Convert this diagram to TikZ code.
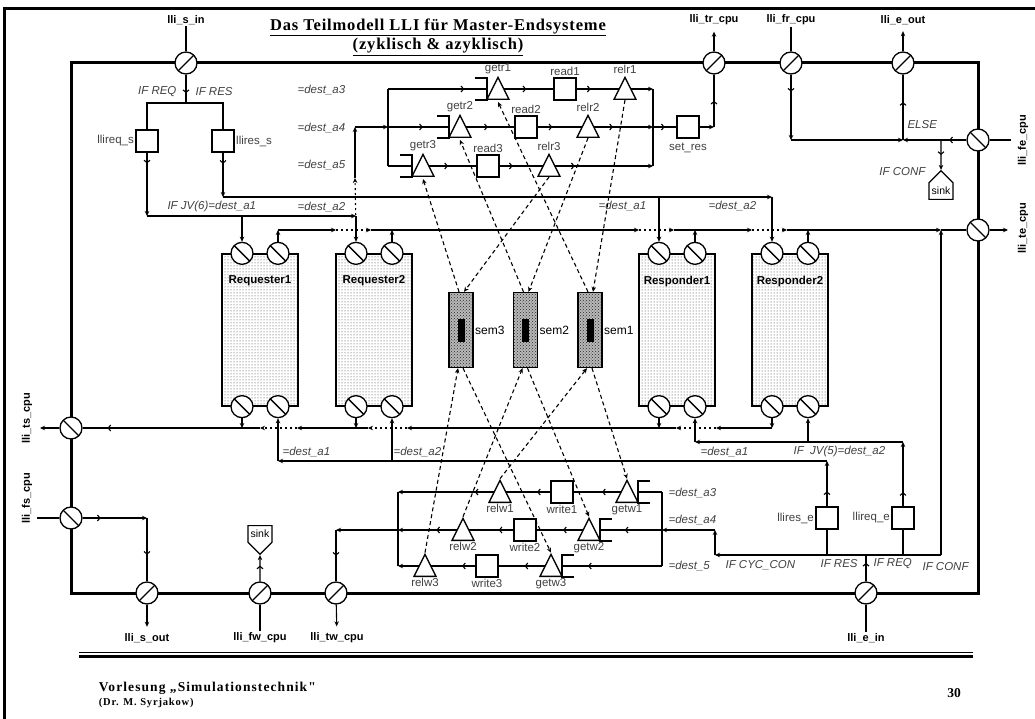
\documentclass[tikz,border=0pt]{standalone}
\usepackage{fontspec}
\setmainfont{Liberation Serif}
\setsansfont{Liberation Sans}
\newfontfamily\titlefont[LetterSpace=5]{Liberation Serif}
\newfontfamily\footfont[LetterSpace=8]{Liberation Serif}
\usetikzlibrary{positioning,arrows.meta,shapes,calc,patterns,decorations.markings}

\begin{document}
\begin{tikzpicture}[
    x=1pt, y=-1pt, line width=1.1pt,
    >={Stealth[length=5pt,width=4.5pt]},
    port/.style={circle, draw, line width=1.3pt, fill=white, minimum size=22pt, inner sep=0pt,
        path picture={\draw[line width=1.3pt] (path picture bounding box.south west) -- (path picture bounding box.north east);}},
    bport/.style={circle, draw, line width=1.3pt, fill=white, minimum size=22pt, inner sep=0pt,
        path picture={\draw[line width=1.3pt] (path picture bounding box.north west) -- (path picture bounding box.south east);}},
    queue/.style={rectangle, draw, line width=1.3pt, fill=white, minimum size=22pt, inner sep=0pt},
    tri/.style={isosceles triangle, isosceles triangle stretches, shape border rotate=90, draw, line width=1.3pt,
        fill=white, minimum width=22pt, minimum height=22pt, inner sep=0pt, anchor=lower side},
    proc/.style={rectangle, draw, line width=1.3pt, minimum width=76pt, minimum height=152pt,
        pattern=dots, pattern color=black!80},
    sem/.style={rectangle, draw, line width=1.3pt, minimum width=24pt, minimum height=75pt,
        preaction={fill=gray!55}, pattern=crosshatch dots, pattern color=black!85},
    sink/.style={signal, draw, line width=1.2pt, fill=white, inner sep=1pt, minimum width=24pt,
        minimum height=27pt, font=\sffamily\fontsize{10.5}{11}\selectfont},
    lbl/.style={font=\sffamily\fontsize{11.5}{13}\selectfont, text=black!75, inner sep=1pt},
    semlbl/.style={font=\sffamily\fontsize{12}{13}\selectfont, inner sep=1pt},
    cond/.style={font=\sffamily\itshape\fontsize{11.5}{13}\selectfont, text=black!75, inner sep=1pt},
    io/.style={font=\sffamily\bfseries\fontsize{11}{12}\selectfont, inner sep=1pt},
    ma/.style={postaction={decorate}, decoration={markings,
        mark=at position #1 with {\arrow{Straight Barb[length=2.5pt,width=6pt]}}}},
    ma/.default=0.5,
    semline/.style={dash pattern=on 4pt off 3pt, ->},
    gap/.style={dash pattern=on 2pt off 3pt, ->}
]
    \useasboundingbox (0,0) rectangle (1035,719);

    % slide frame and model frame
    \draw[line width=3pt] (4,719) -- (4,9) -- (1035,9);
    \draw[line width=3pt] (71,63) rectangle (978,593);
    \draw[line width=0.8pt] (79,652) -- (973,652);
    \draw[line width=3pt] (79,656.5) -- (973,656.5);

    % title and footer
    \node[font=\titlefont\bfseries\fontsize{16.5}{19}\selectfont] (title) at (438,27)
        {\underline{Das Teilmodell LLI für Master-Endsysteme}};
    \node[font=\titlefont\bfseries\fontsize{16.5}{19}\selectfont] (subtitle) at (438,47)
        {\underline{(zyklisch \& azyklisch)}};
    \node[anchor=west, font=\footfont\bfseries\fontsize{13.5}{15}\selectfont] (lecture) at (95,688)
        {Vorlesung „Simulationstechnik"};
    \node[anchor=west, font=\footfont\bfseries\fontsize{10.5}{12}\selectfont] (lecturer) at (95,703)
        {(Dr. M. Syrjakow)};
    \node[font=\bfseries\fontsize{13.5}{15}\selectfont] (page) at (954,693) {30};

    % ports on the border
    \node[port] (sin) at (186,63) {};
    \node[port] (trcpu) at (714,63) {};
    \node[port] (frcpu) at (791,63) {};
    \node[port] (eout) at (903,63) {};
    \node[bport] (fecpu) at (978,140) {};
    \node[bport] (tecpu) at (978,230) {};
    \node[bport] (tscpu) at (71,428) {};
    \node[bport] (fscpu) at (71,518) {};
    \node[port] (sout) at (147,593) {};
    \node[port] (fwcpu) at (260,593) {};
    \node[port] (twcpu) at (336,593) {};
    \node[port] (ein) at (866,593) {};

    \node[io] (sinlbl) at (186,20) {lli\_s\_in};
    \node[io] (trcpulbl) at (714,20) {lli\_tr\_cpu};
    \node[io] (frcpulbl) at (791,20) {lli\_fr\_cpu};
    \node[io] (eoutlbl) at (903,20) {lli\_e\_out};
    \node[io, rotate=90] (fecpulbl) at (1023,140) {lli\_fe\_cpu};
    \node[io, rotate=90] (tecpulbl) at (1023,228) {lli\_te\_cpu};
    \node[io, rotate=90] (tscpulbl) at (27,418) {lli\_ts\_cpu};
    \node[io, rotate=90] (fscpulbl) at (27,498) {lli\_fs\_cpu};
    \node[io] (soutlbl) at (147,638) {lli\_s\_out};
    \node[io] (fwcpulbl) at (260,638) {lli\_fw\_cpu};
    \node[io] (twcpulbl) at (337,638) {lli\_tw\_cpu};
    \node[io] (einlbl) at (866,638) {lli\_e\_in};

    \coordinate (fein) at (1011,140);
    \coordinate (teout) at (1008,230);
    \coordinate (tsout) at (40,428);
    \coordinate (fsin) at (37,518);

    \draw (sinlbl) -- (sin);
    \draw[->, shorten >=5pt] (trcpu) -- (trcpulbl);
    \draw (frcpulbl) -- (frcpu);
    \draw[->, shorten >=5pt] (eout) -- (eoutlbl);
    \draw (fein) -- (fecpu);
    \draw[->] (tecpu) -- (teout);
    \draw[->] (tscpu) -- (tsout);
    \draw (fsin) -- (fscpu);
    \draw[->, shorten >=5pt] (sout) -- (soutlbl);
    \draw (fwcpulbl) -- (fwcpu);
    \draw[->, shorten >=5pt] (twcpu) -- (twcpulbl);
    \draw (einlbl) -- (ein);

    % send queues
    \node[queue, label={[lbl]left:llireq\_s}] (reqs) at (147,141) {};
    \node[queue, label={[lbl]right:llires\_s}] (ress) at (223,141) {};
    \coordinate (sjoin) at (186,103);
    \coordinate (jv6) at (147,216);
    \coordinate (jres) at (223,197);
    \draw[ma=0.65] (sin) -- (sjoin);
    \draw (reqs) |- (sjoin) -| (ress);
    \draw[ma=0.17, ->] (reqs) -- (jv6);
    \draw[ma=0.25, ->] (ress) -- (jres);
    \node[cond, anchor=east] (ifreqs) at (178,92) {IF REQ};
    \node[cond, anchor=west] (ifress) at (194,92) {IF RES};

    % requesters and responders
    \node[proc, label={[io, font=\sffamily\bfseries\fontsize{11.5}{13}\selectfont, anchor=north, yshift=-21pt]north:Requester1}] (req1) at (260,330) {};
    \node[proc, label={[io, font=\sffamily\bfseries\fontsize{11.5}{13}\selectfont, anchor=north, yshift=-21pt]north:Requester2}] (req2) at (374,330) {};
    \node[proc, label={[io, font=\sffamily\bfseries\fontsize{11.5}{13}\selectfont, anchor=north, yshift=-21pt]north:Responder1}] (resp1) at (677,330) {};
    \node[proc, label={[io, font=\sffamily\bfseries\fontsize{11.5}{13}\selectfont, anchor=north, yshift=-21pt]north:Responder2}] (resp2) at (790,330) {};
    \foreach \p in {req1,req2,resp1,resp2} {
        \node[bport] (\p tl) at ([xshift=-18pt]\p.north) {};
        \node[bport] (\p tr) at ([xshift=18pt]\p.north) {};
        \node[bport] (\p bl) at ([xshift=-18pt]\p.south) {};
        \node[bport] (\p br) at ([xshift=18pt]\p.south) {};
    }

    % incoming requests and responses
    \draw[->] (jv6) -- (req2tl |- jv6);
    \draw[->] (req1tl |- jv6) -- (req1tl);
    \draw[->] (req2tl |- jv6) -- (req2tl);
    \draw[->] (jres) -- (resp2tl |- jres);
    \draw[->] (resp1tl |- jres) -- (resp1tl);
    \draw[->] (resp2tl |- jres) -- (resp2tl);
    \node[cond, anchor=west] (jv6lbl) at (166,207) {IF JV(6)=dest\_a1};
    \node[cond, anchor=west] (a2top) at (296,207) {=dest\_a2};
    \node[cond, anchor=west] (a1top) at (597,206) {=dest\_a1};
    \node[cond, anchor=west] (a2topr) at (707,206) {=dest\_a2};

    % outgoing bus
    \coordinate (jout) at (941,230);
    \foreach \p in {req1,req2,resp1,resp2}
        \draw[->] (\p tr) -- (\p tr |- jout);
    \draw[->] (req1tr |- jout) -- ($(req2tl |- jout)+(-20,0)$);
    \draw[gap] ($(req2tl |- jout)+(-20,0)$) -- ($(req2tl |- jout)+(15,0)$);
    \draw[->] ($(req2tl |- jout)+(15,0)$) -- ($(resp1tl |- jout)+(-20,0)$);
    \draw[gap] ($(resp1tl |- jout)+(-20,0)$) -- ($(resp1tl |- jout)+(15,0)$);
    \draw[->] ($(resp1tl |- jout)+(15,0)$) -- ($(resp2tl |- jout)+(-20,0)$);
    \draw[gap] ($(resp2tl |- jout)+(-20,0)$) -- ($(resp2tl |- jout)+(15,0)$);
    \draw[->] ($(resp2tl |- jout)+(15,0)$) -- (jout);
    \draw (jout) -- (tecpu);

    % read part
    \node[cond, anchor=west] (a3) at (296,90) {=dest\_a3};
    \node[cond, anchor=west] (a4) at (296,128) {=dest\_a4};
    \node[cond, anchor=west] (a5) at (296,165) {=dest\_a5};
    \node[tri, label={[lbl]above:getr1}] (getr1) at (498,100) {};
    \node[queue, label={[lbl]above:read1}] (read1) at (565,89) {};
    \node[tri, label={[lbl]above:relr1}] (relr1) at (625,100) {};
    \node[tri, label={[lbl]above:getr2}] (getr2) at (460,138) {};
    \node[queue, label={[lbl]above:read2}] (read2) at (526,127) {};
    \node[tri, label={[lbl]above:relr2}] (relr2) at (588,138) {};
    \node[tri, label={[lbl]above:getr3}] (getr3) at (423,177) {};
    \node[queue, label={[lbl]above:read3}] (read3) at (488,166) {};
    \node[tri, label={[lbl]above:relr3}] (relr3) at (549,177) {};
    \node[queue, label={[lbl, yshift=-3pt]below:set\_res}] (setres) at (688,127) {};
    \foreach \g in {getr1,getr2,getr3} {
        \coordinate (\g bar) at ($(\g.lower side)+(-11,-11)$);
        \draw ($(\g.lower side)+(-23,0)$) -- ++(12,0) -- ++(0,-22) -- ++(-12,0);
    }
    \coordinate (rl1) at (388,89);
    \coordinate (rl2) at (388,127);
    \coordinate (rl3) at (388,166);
    \coordinate (rr1) at (653,89);
    \coordinate (rr2) at (653,127);
    \coordinate (rr3) at (653,166);
    \coordinate (rise) at (355,178);
    \draw[gap] (req2tl |- jout) -- (rise);
    \draw[->] (rise) -- (rise |- rl2);
    \draw[->] (rise |- rl2) -- (rl2);
    \draw (rl1) -- (rl3);
    \draw[ma=0.77] (rl1) -- (getr1bar);
    \draw[ma=0.57] (rl2) -- (getr2bar);
    \draw (rl3) -- (getr3bar);
    \draw[ma=0.45] (read1 -| getr1.right side) -- (read1);
    \draw[ma=0.33] (read1) -- (read1 -| relr1.left side);
    \draw[->] (read1 -| relr1.right side) -- (rr1);
    \draw[ma=0.45] (read2 -| getr2.right side) -- (read2);
    \draw[ma=0.33] (read2) -- (read2 -| relr2.left side);
    \draw[ma=0.32, ->] (read2 -| relr2.right side) -- (rr2);
    \draw[ma=0.4] (read3 -| getr3.right side) -- (read3);
    \draw[ma=0.3] (read3) -- (read3 -| relr3.left side);
    \draw[ma=0.2, ->] (read3 -| relr3.right side) -- (rr3);
    \draw (rr1) -- (rr3);
    \draw[ma] (rr2) -- (setres);
    \draw[->] (setres) -- (trcpu |- setres);
    \draw[ma] (trcpu |- setres) -- (trcpu);

    % top right: fr_cpu, fe_cpu, e_out
    \coordinate (jfr) at (791,140);
    \coordinate (jelse) at (903,140);
    \draw[ma=0.26, ->] (frcpu) -- (jfr);
    \draw[->] (jfr) -- (jelse);
    \draw[ma=0.27, ->] (fecpu) -- (jelse);
    \draw[ma=0.58] (jelse) -- (eout);
    \node[sink, signal to=north, anchor=south] (sink1) at (941,200) {sink};
    \draw[ma, ->] (sink1 |- fecpu) -- (sink1);
    \node[cond, anchor=west] (else) at (906,125) {ELSE};
    \node[cond, anchor=east] (ifconf1) at (927,172) {IF CONF};

    % semaphores
    \foreach \s/\x in {sem3/461, sem2/525.5, sem1/590} {
        \node[sem, label={[semlbl]right:\s}] (\s) at (\x,330) {};
        \node[fill=black, minimum width=7pt, minimum height=23pt, inner sep=0pt] (\s bar) at (\s) {};
    }

    % bottom bus to ts_cpu
    \foreach \p in {req1,req2,resp1,resp2}
        \draw[->] (\p bl) -- (\p bl |- tscpu);
    \draw[->] (resp2bl |- tscpu) -- ($(resp1br |- tscpu)+(21,0)$);
    \draw[gap] ($(resp1br |- tscpu)+(21,0)$) -- ($(resp1br |- tscpu)+(-19,0)$);
    \draw[->] ($(resp1br |- tscpu)+(-19,0)$) -- ($(req2br |- tscpu)+(15,0)$);
    \draw[gap] ($(req2br |- tscpu)+(15,0)$) -- ($(req2br |- tscpu)+(-24,0)$);
    \draw[->] ($(req2br |- tscpu)+(-24,0)$) -- ($(req1br |- tscpu)+(19,0)$);
    \draw[gap] ($(req1br |- tscpu)+(19,0)$) -- ($(req1br |- tscpu)+(-18,0)$);
    \draw[ma=0.86] ($(req1br |- tscpu)+(-18,0)$) -- (tscpu);

    % receive queues
    \node[queue, label={[lbl]left:llires\_e}] (rese) at (827,518) {};
    \node[queue, label={[lbl]left:llireq\_e}] (reqe) at (903,518) {};
    \coordinate (jd) at (827,461);
    \coordinate (jr) at (903,442);
    \draw[ma=0.33, ->] (rese) -- (jd);
    \draw[->] (jd) -- (req1br |- jd);
    \draw[->] (req1br |- jd) -- (req1br);
    \draw[->] (req2br |- jd) -- (req2br);
    \draw[ma=0.22, ->] (reqe) -- (jr);
    \draw[->] (jr) -- (resp1br |- jr);
    \draw[->] (resp1br |- jr) -- (resp1br);
    \draw[->] (resp2br |- jr) -- (resp2br);
    \node[cond, anchor=west] (a1bot) at (281,452) {=dest\_a1};
    \node[cond, anchor=west] (a2bot) at (392,452) {=dest\_a2};
    \node[cond, anchor=west] (a1botr) at (699,452) {=dest\_a1};
    \node[cond, anchor=west] (jv5lbl) at (792,452) {IF\ \ JV(5)=dest\_a2};

    % e_in distribution
    \coordinate (jcyc) at (715,555);
    \coordinate (jcyc2) at (715,530);
    \coordinate (jconf) at (941,555);
    \draw[ma=0.7] (ein) -- (ein |- jcyc);
    \draw[->] (jconf) -- (jcyc);
    \draw (rese) -- (rese |- jcyc);
    \draw (reqe) -- (reqe |- jcyc);
    \draw[->] (jconf) -- (jout);
    \node[cond, anchor=west] (ifcyc) at (724,565) {IF CYC\_CON};
    \node[cond, anchor=west] (ifrese) at (819,564) {IF RES};
    \node[cond, anchor=west] (ifreqe) at (872,564) {IF REQ};
    \node[cond, anchor=west] (ifconf2) at (921,567) {IF CONF};

    % write part
    \coordinate (wr1) at (662,492);
    \coordinate (wr2) at (662,530);
    \coordinate (wr3) at (662,566);
    \coordinate (wl1) at (398,492);
    \coordinate (wl2) at (398,530);
    \coordinate (wl3) at (398,566);
    \draw[->] (jcyc) -- (jcyc2);
    \draw[->] (jcyc2) -- (wr2);
    \node[cond, anchor=west] (a3w) at (667,493) {=dest\_a3};
    \node[cond, anchor=west] (a4w) at (667,520) {=dest\_a4};
    \node[cond, anchor=west] (a5w) at (667,566) {=dest\_5};
    \node[tri, label={[lbl]below:getw1}] (getw1) at (627,503) {};
    \node[queue, label={[lbl]below:write1}] (write1) at (562,492) {};
    \node[tri, label={[lbl]below:relw1}] (relw1) at (500,503) {};
    \node[tri, label={[lbl]below:getw2}] (getw2) at (589,541) {};
    \node[queue, label={[lbl]below:write2}] (write2) at (525,530) {};
    \node[tri, label={[lbl]below:relw2}] (relw2) at (463,541) {};
    \node[tri, label={[lbl]below:getw3}] (getw3) at (551,577) {};
    \node[queue, label={[lbl]below:write3}] (write3) at (487,566) {};
    \node[tri, label={[lbl]below:relw3}] (relw3) at (425,577) {};
    \foreach \g in {getw1,getw2,getw3} {
        \coordinate (\g bar) at ($(\g.lower side)+(11,-11)$);
        \draw ($(\g.lower side)+(23,0)$) -- ++(-12,0) -- ++(0,-22) -- ++(12,0);
    }
    \draw (wr1) -- (wr3);
    \draw (wl1) -- (wl3);
    \draw (wr1) -- (getw1bar);
    \draw[ma=0.4] (write1 -| getw1.left side) -- (write1);
    \draw[ma=0.3] (write1) -- (write1 -| relw1.right side);
    \draw[ma=0.2, ->] (write1 -| relw1.left side) -- (wl1);
    \draw[ma=0.6] (wr2) -- (getw2bar);
    \draw[ma=0.43] (write2 -| getw2.left side) -- (write2);
    \draw[ma=0.33] (write2) -- (write2 -| relw2.right side);
    \draw[ma=0.35, ->] (write2 -| relw2.left side) -- (wl2);
    \draw[ma=0.74] (wr3) -- (getw3bar);
    \draw[ma=0.44] (write3 -| getw3.left side) -- (write3);
    \draw[ma=0.3] (write3) -- (write3 -| relw3.right side);
    \draw[->] (write3 -| relw3.left side) -- (wl3);
    \draw[->] (wl2) -- (twcpu |- wl2);
    \draw[ma] (twcpu |- wl2) -- (twcpu);

    % s_out, fw_cpu
    \coordinate (jfs) at (147,518);
    \draw[ma=0.28, ->] (fscpu) -- (jfs);
    \draw[ma=0.58] (jfs) -- (sout);
    \node[sink, signal to=south, anchor=north] (sink2) at (260,525) {sink};
    \draw[ma=0.6, ->] (fwcpu) -- (sink2);

    % semaphore signals
    \draw[semline] ([xshift=-2pt]sem3.north) -- ([yshift=-2pt]getr3.lower side);
    \draw[semline] (relr3.lower side) -- ([xshift=3pt]sem3.north);
    \draw[semline] ([xshift=-2pt]sem2.north) -- ([yshift=-2pt]getr2.lower side);
    \draw[semline] (relr2.lower side) -- ([xshift=3pt]sem2.north);
    \draw[semline] ([xshift=-2pt]sem1.north) -- ([yshift=-2pt]getr1.lower side);
    \draw[semline] (relr1.lower side) -- ([xshift=3pt]sem1.north);
    \draw[semline] ([xshift=2pt]sem1.south) -- (getw1.apex);
    \draw[semline] (relw1.apex) -- ([xshift=-3pt]sem1.south);
    \draw[semline] ([xshift=2pt]sem2.south) -- (getw2.apex);
    \draw[semline] (relw2.apex) -- ([xshift=-3pt]sem2.south);
    \draw[semline] ([xshift=2pt]sem3.south) -- (getw3.apex);
    \draw[semline] (relw3.apex) -- ([xshift=-3pt]sem3.south);
\end{tikzpicture}
\end{document}
